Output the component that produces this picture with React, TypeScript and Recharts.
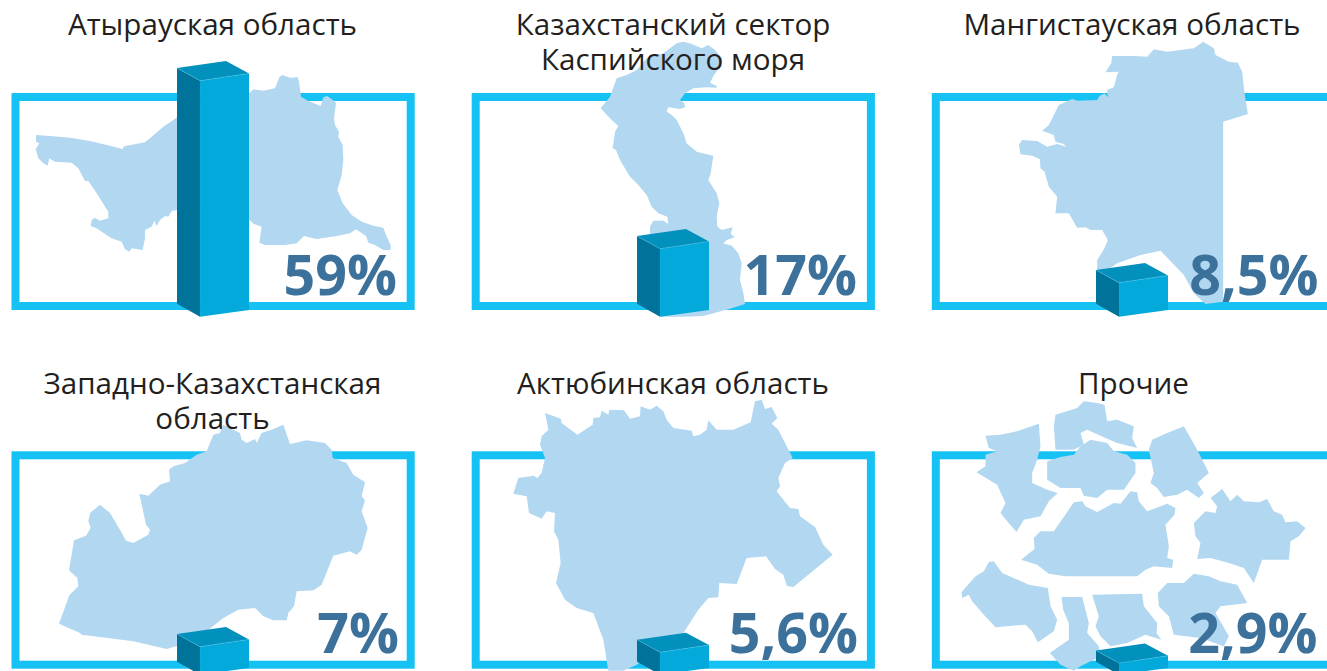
import { BarChart, Bar, XAxis, YAxis } from "recharts";

const REGIONS = [
  "Атырауская область",
  "Казахстанский сектор Каспийского моря",
  "Мангистауская область",
  "Западно-Казахстанская область",
  "Актюбинская область",
  "Прочие",
];
const SHARES = [59, 17, 8.5, 7, 5.6, 2.9];
const TITLE_LINES = [
  ["Атырауская область"],
  ["Казахстанский сектор", "Каспийского моря"],
  ["Мангистауская область"],
  ["Западно-Казахстанская", "область"],
  ["Актюбинская область"],
  ["Прочие"],
];

// silhouettes, traced at 3x from the source picture
const MAPS = [
  ["108,405 150,408 210,413 270,423 330,437 368,447 372,439 435,427 455,410 490,380 532,352 600,320 748,280 760,268 790,272 825,265 838,232 847,225 870,233 893,232 897,245 903,290 925,303 962,318 970,292 982,288 1005,305 1008,310 1002,355 1005,375 1017,395 1015,410 1028,435 1030,480 1025,525 1012,570 1028,610 1055,645 1085,665 1120,677 1150,683 1158,705 1172,735 1172,750 1150,750 1125,735 1105,728 1098,708 1068,688 1050,700 1010,708 950,717 912,708 890,730 855,735 795,735 778,728 785,680 762,672 748,660 600,620 530,630 515,633 505,650 495,648 480,660 470,678 463,662 455,680 435,690 435,715 428,750 395,745 388,755 375,748 365,725 335,715 305,695 290,685 272,678 275,660 285,653 300,662 325,655 325,635 290,580 265,543 255,543 235,505 215,488 190,487 165,485 148,475 143,497 130,490 115,475 107,447 118,430 108,425"],
  ["700,125 725,132 755,145 775,135 795,150 815,175 810,200 792,225 780,248 800,258 800,263 770,262 730,265 705,280 690,300 703,310 705,322 690,327 655,322 650,335 665,345 680,360 700,400 710,430 740,455 790,467 782,520 775,540 800,580 808,610 800,650 802,680 815,690 848,682 842,702 855,712 830,720 820,730 845,737 865,760 875,790 870,840 880,880 885,912 845,925 790,940 760,948 700,950 632,950 600,900 600,680 610,662 640,662 655,672 652,650 625,640 605,620 590,585 565,555 540,530 510,480 498,450 488,445 495,395 505,378 485,360 452,325 480,290 500,235 530,225 560,210 590,175 640,160 680,130"],
  ["908,125 940,145 945,165 985,185 1012,188 1025,215 1032,280 1042,342 968,365 968,905 915,912 880,880 850,825 780,752 720,765 650,790 620,810 590,810 590,780 612,745 622,720 605,690 570,690 555,682 530,683 505,640 465,640 470,590 445,560 432,515 420,505 418,478 395,467 360,463 355,435 365,420 410,423 440,440 470,432 497,440 490,432 465,425 460,405 425,392 445,375 460,345 475,315 515,297 530,302 590,300 597,288 612,280 622,292 620,270 640,262 650,225 655,215 615,217 632,190 635,168 700,168 740,170 760,148 800,155 880,145"],
  ["177,822 208,737 235,710 232,685 207,662 222,572 258,558 272,535 265,515 270,490 300,465 330,490 360,540 378,573 400,580 445,555 450,540 438,525 418,432 445,438 480,405 510,395 507,360 520,350 555,340 590,315 620,305 640,255 660,250 670,225 700,240 720,250 725,270 740,280 765,268 770,280 785,250 815,240 850,225 870,283 920,272 975,280 995,300 998,325 1040,340 1060,375 1095,398 1085,440 1095,452 1085,485 1103,535 1085,600 1070,615 1050,605 1000,618 965,705 940,722 890,725 882,770 865,790 860,812 820,812 790,800 765,775 715,780 670,805 620,845 560,880 500,898 400,875 245,855 240,850"],
  ["285,190 300,195 332,207 335,220 382,255 428,225 430,205 450,203 455,183 475,195 478,180 522,182 540,207 570,200 572,170 600,180 620,168 640,185 650,210 670,235 725,243 730,260 750,255 770,240 775,212 800,240 850,240 902,218 915,155 935,150 945,178 965,172 982,205 965,222 985,240 1028,325 1005,340 985,385 990,410 980,425 1020,475 1045,478 1050,500 1095,532 1120,585 1148,615 1030,712 1010,708 1000,675 975,658 948,620 890,625 860,703 808,700 805,743 775,745 745,780 700,850 620,900 560,945 520,963 475,963 460,870 430,790 380,775 345,750 318,700 332,640 325,570 312,545 315,490 290,485 275,507 237,490 230,440 190,432 205,385 250,378 262,385 275,370 285,325 270,285 275,260 295,240"],
  [
    "415,222 420,290 410,330 395,370 395,400 440,420 472,430 445,455 420,500 370,510 348,547 320,515 300,490 315,460 290,405 228,368 255,350 255,315 290,305 265,295 255,258 300,255 350,245",
    "550,155 590,160 612,165 620,215 650,210 700,230 695,265 710,295 650,280 600,258 560,240 540,250 550,285 520,300 465,300 460,230 465,195 530,175",
    "570,270 620,280 640,305 680,315 705,340 705,370 670,420 620,420 590,445 550,438 540,415 480,415 440,390 440,335 480,322 520,315 540,290",
    "850,230 890,300 925,370 890,400 910,430 895,445 860,420 830,435 790,442 770,415 750,400 760,370 745,300 755,270 800,250",
    "690,425 710,428 715,455 740,485 800,462 825,475 822,495 795,525 805,590 800,625 818,630 815,655 760,650 735,660 710,680 495,680 445,672 410,645 362,630 402,598 400,565 420,545 460,545 520,458 545,455 555,470 590,487 640,460 660,462",
    "880,520 915,485 945,490 950,470 930,445 965,418 990,455 1010,435 1030,455 1075,458 1100,448 1120,485 1145,495 1155,518 1190,515 1215,535 1195,560 1170,575 1165,630 1085,630 1060,700 1030,655 985,640 930,625 890,628 900,580 885,560",
    "880,672 925,680 960,695 1010,705 1040,760 960,770 945,790 985,860 970,890 900,865 820,855 805,800 775,770 772,730 800,700 850,700",
    "265,637 280,635 305,670 385,705 442,715 450,770 470,810 460,845 412,878 395,845 375,825 285,833 250,795 215,755 205,735 185,745 183,728 225,680 250,665",
    "483,742 545,742 565,820 560,850 595,890 600,920 540,950 520,963 480,945 448,910 505,870 505,820 488,780",
    "575,735 725,732 730,770 770,820 768,850 782,870 735,855 680,880 630,890 600,860 585,830 595,800",
  ],
];

const CHART_W = 404;
const CHART_H = 330;
const CHART_LEFT = [11, 471, 929.5, 11, 471, 929.5];
const CHART_TOP = [0, 0, 0, 358.3, 358.3, 358.3];
const CROP_X = [0, 450, 900, 0, 450, 900];
const CROP_Y = [0, 0, 0, 350, 350, 350];
const FRAME_LEFT = [15.5, 475.7, 935.3, 15.5, 475.7, 935.3];
const TITLE_X = [212.5, 673, 1131.5, 212.5, 673, 1133];
const TITLE_Y = [35, 35, 35, 36.3, 36.3, 36.3];
const VALUE_RIGHT = [397, 857, 1318, 399, 858, 1317];

const formatShare = (v: number) => String(v).replace(".", ",") + "%";

function Bar3D(props: any) {
  const { x, y, width, height } = props;
  const side = width * 0.32;
  const b = y + height;
  const r = x + width;
  return (
    <g>
      <polygon points={`${x},${y - 12.6} ${x + width - side},${y - 19.6} ${r},${y - 7.3} ${x + side},${y}`} fill="#0291bd" />
      <polygon points={`${x},${y - 12.6} ${x + side},${y} ${x + side},${b} ${x},${b - 13}`} fill="#00739b" />
      <polygon points={`${x + side},${y} ${r},${y - 7.3} ${r},${b - 6.7} ${x + side},${b}`} fill="#03a9db" />
      <polyline points={`${x},${y - 12.6} ${x + side},${y} ${r},${y - 7.3}`} fill="none" stroke="#4fbfe0" strokeWidth={0.5} />
    </g>
  );
}

function Panel({ i }: { i: number }) {
  const left = CHART_LEFT[i];
  const top = CHART_TOP[i];
  const data = [{ name: REGIONS[i], share: SHARES[i] }];
  const lines = TITLE_LINES[i];
  return (
    <div style={{ position: "absolute", left, top }}>
      <BarChart width={CHART_W} height={CHART_H} data={data} margin={{ top: 16.7, right: 0, bottom: 13.3, left: 0 }} style={{ overflow: "visible" }}>
        <rect
          x={FRAME_LEFT[i] - left}
          y={i < 3 ? 97 : 97.3}
          width={395.2}
          height={i < 3 ? 209 : 209.4}
          fill="none"
          stroke="#16c2f3"
          strokeWidth={8}
        />
        <g transform={`translate(${CROP_X[i] - left},${CROP_Y[i] - top}) scale(${1 / 3})`}>
          {MAPS[i].map((p, k) => (
            <polygon key={k} points={p} fill="#b2d7f1" />
          ))}
        </g>
        <XAxis dataKey="name" hide />
        <YAxis domain={[0, 75]} hide />
        <Bar dataKey="share" barSize={72} shape={Bar3D} isAnimationActive={false} />
        <text
          x={VALUE_RIGHT[i] - left}
          y={294.5}
          textAnchor="end"
          fontFamily="'Open Sans', sans-serif"
          fontWeight={700}
          fontSize={55.5}
          fill="#3c719b"
        >
          {formatShare(SHARES[i])}
        </text>
        {lines.map((line, k) => (
          <text
            key={k}
            x={TITLE_X[i] - left}
            y={TITLE_Y[i] + k * 35}
            textAnchor="middle"
            fontFamily="'Open Sans', sans-serif"
            fontSize={29.6}
            fill="#231f20"
          >
            {line}
          </text>
        ))}
      </BarChart>
    </div>
  );
}

export default function App() {
  return (
    <div style={{ position: "fixed", left: 0, top: 0, width: 1327, height: 671, overflow: "hidden", background: "#fff" }}>
      {REGIONS.map((_, i) => (
        <Panel key={i} i={i} />
      ))}
    </div>
  );
}
